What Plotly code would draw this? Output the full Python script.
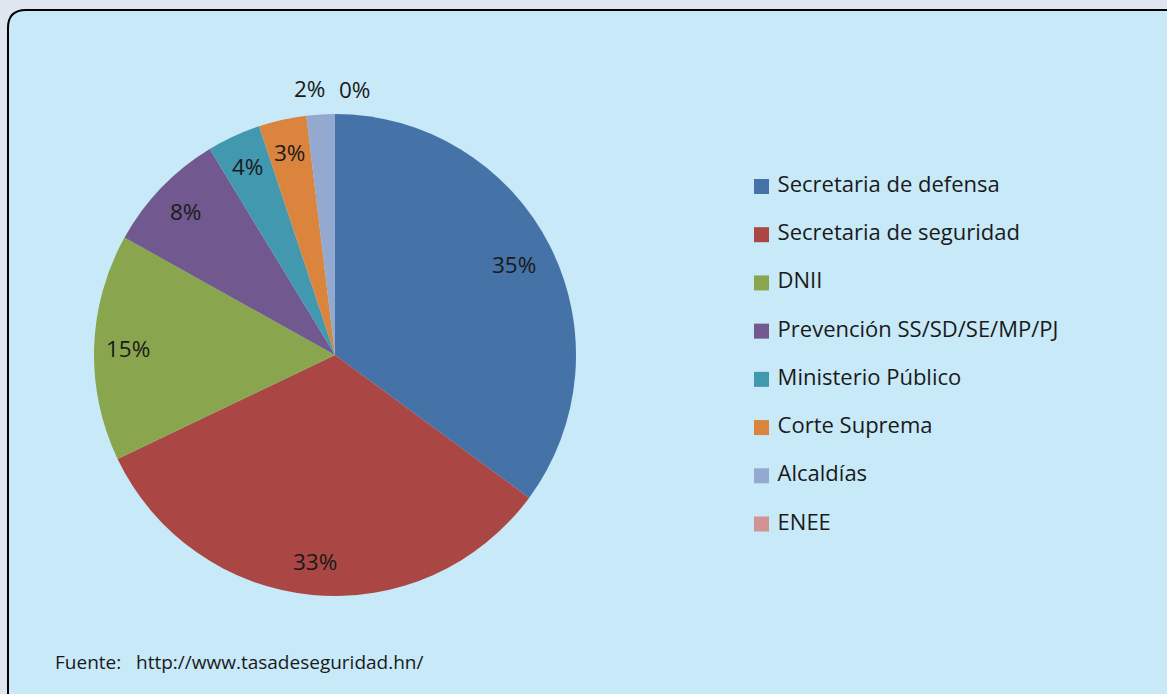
import math
import plotly.graph_objects as go

# ---------------- data ----------------
labels = ["Secretaria de defensa", "Secretaria de seguridad", "DNII",
          "Prevención SS/SD/SE/MP/PJ", "Ministerio Público", "Corte Suprema",
          "Alcaldías", "ENEE"]
values = [35.1, 32.8, 15.2, 8.2, 3.6, 3.2, 1.9, 0.0]
colors = ["#4572A7", "#AA4643", "#89A54E", "#71588F",
          "#4198AF", "#DB843D", "#93A9CF", "#D19392"]
source_text = "Fuente:\u00a0\u00a0 http://www.tasadeseguridad.hn/"

# ---------------- layout geometry (pixels) ----------------
W, H = 1167, 694
CX, CY, R = 335, 355, 241          # pie centre / radius
FONT = "Open Sans"
TXT = "#1a1a1a"

dom_x = [(CX - R) / W, (CX + R) / W]
dom_y = [(H - CY - R) / H, (H - CY + R) / H]

fig = go.Figure()
fig.add_trace(go.Pie(
    labels=labels, values=values, sort=False, direction="clockwise",
    rotation=0, marker=dict(colors=colors, line=dict(width=0)),
    textinfo="none", showlegend=False, hoverinfo="label+percent",
    domain=dict(x=dom_x, y=dom_y),
))

# data labels computed from slice angles
total = sum(values)
annotations = []
cum = 0.0
for lab, v in zip(labels, values):
    frac = v / total
    mid = (cum + frac / 2) * 2 * math.pi
    cum += frac
    pct = f"{round(frac * 100):.0f}%"
    outside = frac < 0.025
    rf = 1.1 if outside else (0.83 if frac > 0.34 else 0.86)
    px = CX + rf * R * math.sin(mid)
    py = CY - rf * R * math.cos(mid)
    if outside:
        xa = "right" if math.sin(mid) < -1e-6 else "left"
    else:
        xa = "center"
    annotations.append(dict(
        x=px / W, y=(H - py) / H, xref="paper", yref="paper",
        text=pct, showarrow=False, xanchor=xa, yanchor="middle",
        xshift=(8 if xa == "right" else (2 if xa == "left" else 0)),
        yshift=(2 if xa == "right" else 0),
        font=dict(family=FONT, size=22.5, color=TXT),
    ))

annotations.append(dict(
    x=53 / W, y=(H - 662) / H, xref="paper", yref="paper",
    text=source_text, showarrow=False, xanchor="left", yanchor="middle",
    font=dict(family=FONT, size=19, color=TXT),
))

# legend drawn as a scatter on a hidden axis (one point per category)
idx = list(range(len(labels)))
fig.add_trace(go.Scatter(
    x=[0] * len(labels), y=idx, mode="markers+text",
    marker=dict(symbol="square", size=15, color=colors, line=dict(width=0)),
    text=labels, texttemplate=" %{text}", textposition="middle right",
    textfont=dict(family=FONT, size=22, color=TXT),
    cliponaxis=False, showlegend=False, hoverinfo="skip",
))

leg_top, leg_bot, leg_x = 186.5, 524, 761.5
fig.update_layout(
    width=W, height=H,
    margin=dict(l=0, r=0, t=0, b=0),
    paper_bgcolor="#dfe6f0", plot_bgcolor="rgba(0,0,0,0)",
    showlegend=False,
    xaxis=dict(domain=[leg_x / W, 1.0], range=[0, 1], visible=False, fixedrange=True),
    yaxis=dict(domain=[(H - leg_bot) / H, (H - leg_top) / H],
               range=[len(labels) - 1, 0], visible=False, fixedrange=True),
    annotations=annotations,
    shapes=[dict(
        type="path", xref="paper", yref="paper", xsizemode="pixel", ysizemode="pixel",
        xanchor=0, yanchor=1, layer="below",
        path="M 8,-28 Q 8,-10 26,-10 L 1200,-10 L 1200,-720 L 8,-720 Z",
        fillcolor="#c7e9f8", line=dict(color="#000000", width=2),
    )],
)

fig.write_html("out.html", config={"displayModeBar": False},
               post_script="document.body.style.margin='0';document.body.style.overflow='hidden';")
